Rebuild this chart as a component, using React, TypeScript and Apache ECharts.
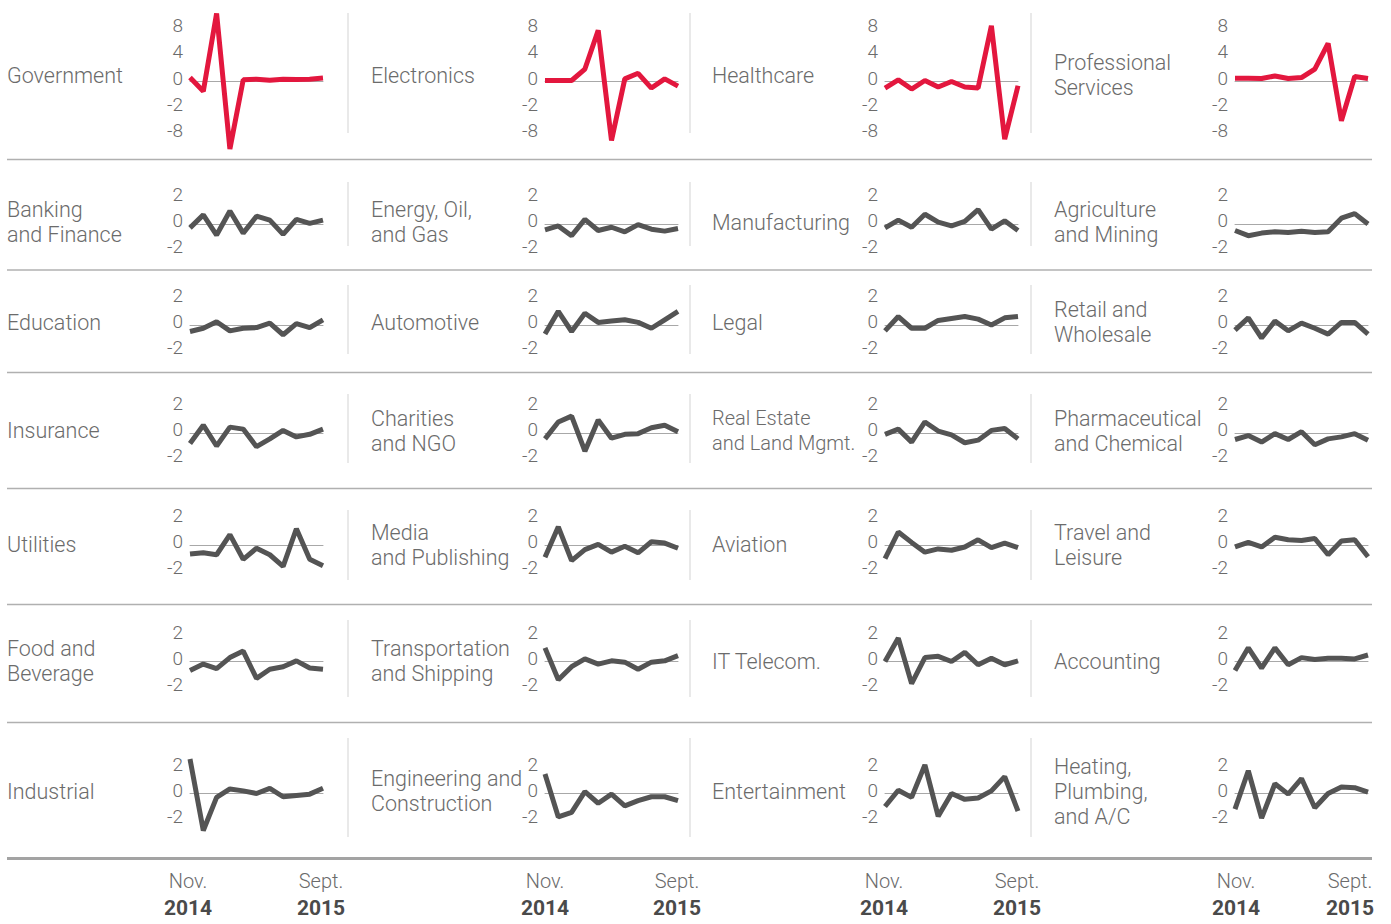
import React, { useEffect, useRef } from 'react';
import * as echarts from 'echarts';

// ---- Data ----
const months = ['Nov. 2014', 'Dec. 2014', 'Jan. 2015', 'Feb. 2015', 'Mar. 2015', 'Apr. 2015', 'May 2015', 'June 2015', 'July 2015', 'Aug. 2015', 'Sept. 2015'];

const government = [0.6, -1.5, 10.4, -10.3, 0.25, 0.35, 0.2, 0.35, 0.3, 0.35, 0.55];
const electronics = [0.15, 0.15, 0.15, 1.9, 7.8, -9.0, 0.4, 1.25, -1.0, 0.4, -0.7];
const healthcare = [-1.0, 0.25, -1.15, 0.15, -0.85, 0, -0.85, -1.0, 8.5, -8.8, -0.65];
const professional = [0.5, 0.5, 0.45, 0.85, 0.45, 0.6, 1.9, 5.8, -6.0, 0.75, 0.45];

const banking = [-0.3, 0.7, -0.85, 1.0, -0.7, 0.6, 0.3, -0.8, 0.35, 0.05, 0.3];
const energy = [-0.45, -0.15, -0.9, 0.35, -0.5, -0.25, -0.6, -0.05, -0.4, -0.55, -0.35];
const manufacturing = [-0.3, 0.3, -0.25, 0.75, 0.15, -0.15, 0.2, 1.1, -0.4, 0.25, -0.5];
const agriculture = [-0.5, -0.9, -0.7, -0.6, -0.65, -0.55, -0.65, -0.6, 0.45, 0.8, 0];

const education = [-0.5, -0.25, 0.25, -0.45, -0.25, -0.2, 0.15, -0.75, 0.1, -0.2, 0.4];
const automotive = [-0.7, 1.05, -0.5, 0.9, 0.2, 0.3, 0.4, 0.2, -0.25, 0.4, 1.05];
const legal = [-0.45, 0.65, -0.25, -0.25, 0.35, 0.5, 0.65, 0.45, 0, 0.55, 0.65];
const retail = [-0.4, 0.55, -1.0, 0.3, -0.45, 0.15, -0.25, -0.7, 0.2, 0.2, -0.7];

const insurance = [-0.8, 0.6, -1.0, 0.45, 0.3, -1.05, -0.45, 0.2, -0.3, -0.1, 0.3];
const charities = [-0.45, 0.85, 1.3, -1.4, 1.0, -0.4, -0.1, -0.05, 0.4, 0.6, 0.1];
const realEstate = [-0.1, 0.3, -0.7, 0.85, 0.15, -0.15, -0.75, -0.55, 0.2, 0.35, -0.45];
const pharma = [-0.5, -0.2, -0.7, -0.05, -0.5, 0.1, -0.9, -0.45, -0.3, -0.05, -0.55];

const utilities = [-0.7, -0.6, -0.75, 0.8, -1.1, -0.25, -0.75, -1.65, 1.25, -1.1, -1.6];
const media = [-0.95, 1.4, -1.2, -0.35, 0.05, -0.55, -0.1, -0.6, 0.25, 0.15, -0.25];
const aviation = [-1.05, 1.0, 0.2, -0.55, -0.3, -0.4, -0.15, 0.4, -0.2, 0.15, -0.2];
const travel = [-0.15, 0.2, -0.15, 0.6, 0.4, 0.35, 0.5, -0.75, 0.3, 0.4, -0.9];

const food = [-0.7, -0.2, -0.55, 0.3, 0.8, -1.3, -0.6, -0.4, 0.05, -0.5, -0.6];
const transportation = [1.05, -1.4, -0.4, 0.2, -0.2, 0.05, -0.05, -0.6, -0.05, 0.05, 0.45];
const itTelecom = [0, 1.8, -1.7, 0.3, 0.4, 0, 0.7, -0.25, 0.25, -0.25, 0.05];
const accounting = [-0.7, 1.05, -0.5, 1.05, -0.25, 0.3, 0.15, 0.25, 0.25, 0.2, 0.5];

const industrial = [2.65, -2.85, -0.3, 0.35, 0.2, 0, 0.4, -0.25, -0.15, -0.05, 0.4];
const engineering = [1.5, -1.8, -1.45, 0.15, -0.75, -0.05, -0.95, -0.55, -0.25, -0.25, -0.55];
const entertainment = [-1.0, 0.25, -0.3, 2.2, -1.75, 0, -0.45, -0.35, 0.2, 1.3, -1.35];
const heating = [-1.2, 1.75, -1.9, 0.75, -0.05, 1.15, -1.1, 0, 0.5, 0.45, 0.1];

// rows of [label, data]
const rows: [string, number[]][][] = [
  [['Government', government], ['Electronics', electronics], ['Healthcare', healthcare], ['Professional\nServices', professional]],
  [['Banking\nand Finance', banking], ['Energy, Oil,\nand Gas', energy], ['Manufacturing', manufacturing], ['Agriculture\nand Mining', agriculture]],
  [['Education', education], ['Automotive', automotive], ['Legal', legal], ['Retail and\nWholesale', retail]],
  [['Insurance', insurance], ['Charities\nand NGO', charities], ['Real Estate\nand Land Mgmt.', realEstate], ['Pharmaceutical\nand Chemical', pharma]],
  [['Utilities', utilities], ['Media\nand Publishing', media], ['Aviation', aviation], ['Travel and\nLeisure', travel]],
  [['Food and\nBeverage', food], ['Transportation\nand Shipping', transportation], ['IT Telecom.', itTelecom], ['Accounting', accounting]],
  [['Industrial', industrial], ['Engineering and\nConstruction', engineering], ['Entertainment', entertainment], ['Heating,\nPlumbing,\nand A/C', heating]],
];

// tick labels
const bigTickValues = [8, 4, 0, -4, -8];
const bigTickLabels = ['8', '4', '0', '-2', '-8'];
const smallTickValues = [2, 0, -2];
const smallTickLabels = ['2', '0', '-2'];
const startLabel = ['Nov.', '2014'];
const endLabel = ['Sept.', '2015'];

// ---- Layout ----
const colX = [190, 545, 885, 1235];
const colW = 133;
const labelX = [7, 371, 712, 1054];
const rowZero = [81.5, 224, 325, 433, 545, 661.5, 793.5];
const rowLabelY = [75, 222, 322, 430.5, 544.5, 661, 791];
const sepY = [159.5, 270, 372.5, 488.5, 604.5, 722.5];
const dividerX = [348, 690, 1031];
const dividerSpan = [[13, 133], [182, 246], [285, 354], [394, 463], [510, 580], [620, 697], [738, 837]];
const novX = [188, 545, 884, 1236];
const septX = [321, 677, 1017, 1350];

const RED = '#e3173e';
const GRAY = '#545454';
const TEXT = '#6b6b6b';
const FONT = 'Roboto, "Noto Sans", sans-serif';

export default function App() {
  const ref = useRef<HTMLDivElement>(null);
  useEffect(() => {
    const chart = echarts.init(ref.current!, null, { renderer: 'svg' });
    const grid: any[] = [];
    const xAxis: any[] = [];
    const yAxis: any[] = [];
    const series: any[] = [];
    const graphic: any[] = [];

    rows.forEach((row, r) => {
      const big = r === 0;
      const scale = big ? 6.55 : 13;
      const range = big ? 12 : 4;
      row.forEach(([name, data], c) => {
        const i = grid.length;
        grid.push({
          left: colX[c],
          width: colW,
          top: rowZero[r] - scale * range,
          height: 2 * scale * range,
        });
        xAxis.push({
          type: 'category',
          gridIndex: i,
          data: months,
          boundaryGap: false,
          axisLine: { show: true, onZero: true, lineStyle: { color: '#a8a8a8', width: 1 } },
          axisTick: { show: false },
          axisLabel: { show: false },
          splitLine: { show: false },
        });
        yAxis.push({
          type: 'value',
          gridIndex: i,
          min: -range,
          max: range,
          interval: big ? 4 : 2,
          axisLine: { show: false },
          axisTick: { show: false },
          splitLine: { show: false },
          axisLabel: {
            margin: 7,
            color: TEXT,
            fontSize: 19,
            fontFamily: FONT,
            fontWeight: 300,
            verticalAlign: 'bottom',
            lineHeight: 7,
            formatter: (v: number) => {
              if (big) {
                const k = bigTickValues.indexOf(v);
                return k >= 0 ? bigTickLabels[k] : '';
              }
              const k = smallTickValues.indexOf(v);
              return k >= 0 ? smallTickLabels[k] : '';
            },
          },
        });
        series.push({
          type: 'line',
          name: name.replace(/\n/g, ' '),
          xAxisIndex: i,
          yAxisIndex: i,
          data,
          symbol: 'none',
          lineStyle: { color: big ? RED : GRAY, width: 5, join: 'bevel' },
          itemStyle: { color: big ? RED : GRAY },
          silent: true,
        });
        const tight = name.indexOf('Mgmt.') >= 0;
        graphic.push({
          type: 'text',
          x: labelX[c],
          y: rowLabelY[r],
          style: {
            text: name,
            font: `300 ${tight ? 20 : 21.5}px ${FONT}`,
            fill: TEXT,
            lineHeight: 25,
            textAlign: 'left',
            align: 'left',
            textVerticalAlign: 'middle',
            verticalAlign: 'middle',
          },
        });
      });
      dividerX.forEach((x) => {
        graphic.push({
          type: 'line',
          shape: { x1: x, y1: dividerSpan[r][0], x2: x, y2: dividerSpan[r][1] },
          style: { stroke: '#e2e2e2', lineWidth: 1.5 },
        });
      });
    });

    sepY.forEach((y) => {
      graphic.push({
        type: 'line',
        shape: { x1: 7, y1: y, x2: 1372, y2: y },
        style: { stroke: '#b0b0b0', lineWidth: 1.5 },
      });
    });
    graphic.push({
      type: 'line',
      shape: { x1: 7, y1: 858.5, x2: 1372, y2: 858.5 },
      style: { stroke: '#a3a3a3', lineWidth: 3 },
    });

    for (let c = 0; c < 4; c++) {
      [[novX[c], startLabel], [septX[c], endLabel]].forEach(([x, lab]: any) => {
        graphic.push({
          type: 'text',
          x,
          y: 881,
          style: {
            text: lab[0],
            font: `300 20px ${FONT}`,
            fill: TEXT,
            textAlign: 'center',
            align: 'center',
            textVerticalAlign: 'middle',
            verticalAlign: 'middle',
          },
        });
        graphic.push({
          type: 'text',
          x,
          y: 908,
          style: {
            text: lab[1],
            font: `bold 21px ${FONT}`,
            fill: '#4a4a4a',
            textAlign: 'center',
            align: 'center',
            textVerticalAlign: 'middle',
            verticalAlign: 'middle',
          },
        });
      });
    }

    chart.setOption({
      animation: false,
      backgroundColor: '#ffffff',
      grid,
      xAxis,
      yAxis,
      series,
      graphic,
    });
    return () => chart.dispose();
  }, []);
  return (
    <div
      ref={ref}
      style={{ position: 'absolute', left: 0, top: 0, width: 1391, height: 924, background: '#fff' }}
    />
  );
}
